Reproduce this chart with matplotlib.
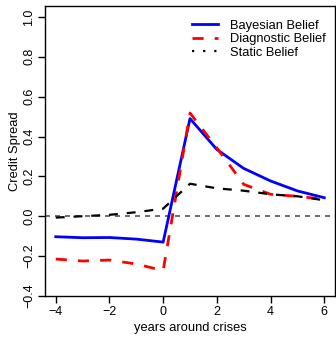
import numpy as np
import matplotlib
matplotlib.use("Agg")
import matplotlib.pyplot as plt

plt.rcParams['font.family'] = ['Liberation Sans', 'DejaVu Sans']

years = [-4, -3, -2, -1, 0, 1, 2, 3, 4, 5, 6]
bayesian = [-0.103, -0.108, -0.107, -0.115, -0.130, 0.490, 0.335, 0.240, 0.177, 0.127, 0.093]
diagnostic = [-0.215, -0.225, -0.220, -0.240, -0.273, 0.518, 0.343, 0.160, 0.110, 0.100, 0.085]
static = [-0.007, 0.000, 0.007, 0.020, 0.038, 0.163, 0.140, 0.128, 0.110, 0.100, 0.080]

fig = plt.figure(figsize=(3.36, 3.37), dpi=100)
ax = fig.add_axes([0.134, 0.122, 0.863, 0.860])

ax.axhline(0, color='#555555', linestyle=(0, (3, 3)), linewidth=1.2)
ax.plot(years, bayesian, color='blue', linewidth=2, label='Bayesian Belief')
ax.plot(years, diagnostic, color='red', linewidth=2, linestyle=(0, (4, 4)), label='Diagnostic Belief')
ax.plot(years, static, color='black', linewidth=1.6, linestyle=(0, (4, 4)))
ax.plot([], [], color='black', linewidth=1.6, linestyle=(0, (1, 4)), label='Static Belief')

ax.set_xlim(-4.4, 6.4)
ax.set_ylim(-0.4, 1.055)
ax.set_xticks([-4, -2, 0, 2, 4, 6])
ax.set_xticklabels(['\u22124', '\u22122', '0', '2', '4', '6'])
yt = [-0.4, -0.2, 0.0, 0.2, 0.4, 0.6, 0.8, 1.0]
ax.set_yticks(yt)
ax.set_yticklabels([('%.1f' % v).replace('-', '\u2212') for v in yt], rotation=90, va='center')
ax.tick_params(labelsize=9, length=5, width=1, pad=2)
ax.set_xlabel('years around crises', fontsize=9.3, labelpad=3)
ax.set_ylabel('Credit Spread', fontsize=9.3, labelpad=2)
for s in ax.spines.values():
    s.set_linewidth(1)
ax.legend(loc='upper right', frameon=False, fontsize=9.3, handlelength=2.0,
          handletextpad=0.9, borderaxespad=0.6, labelspacing=0.1,
          bbox_to_anchor=(1.012, 0.997))

fig.savefig('out.png', dpi=100)
